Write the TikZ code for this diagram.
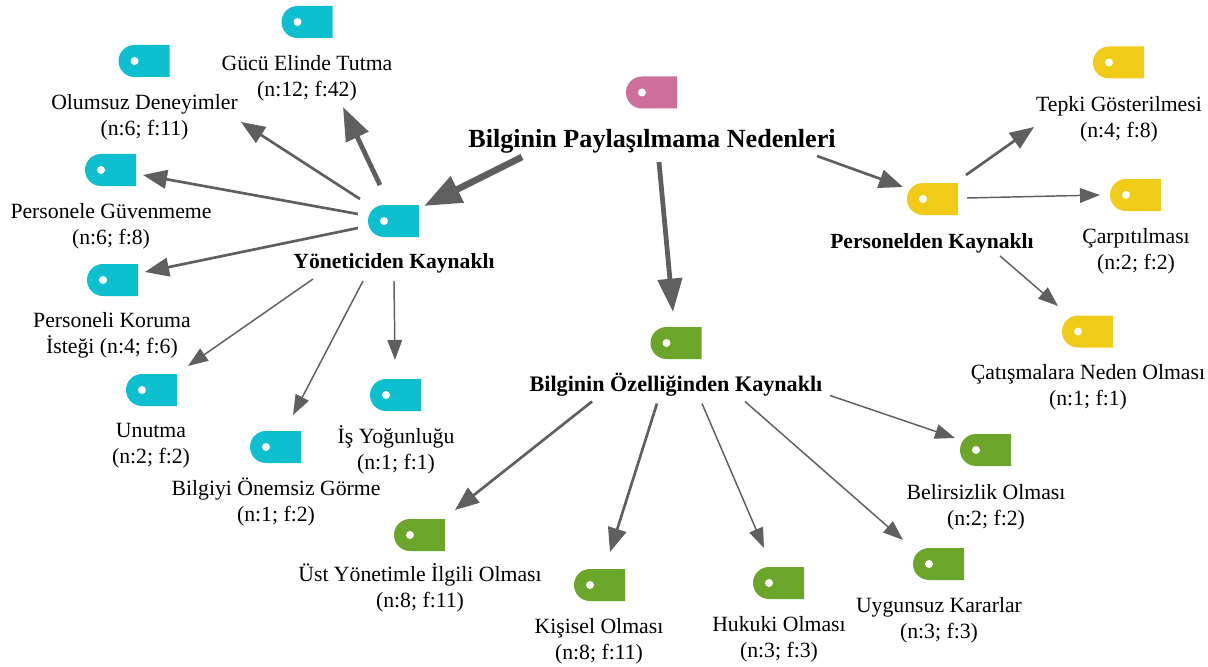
\documentclass[tikz,border=0pt]{standalone}
\usepackage{fontspec}
\setmainfont{Liberation Serif}
\usepackage{xcolor}
\usetikzlibrary{arrows.meta,shapes.misc}
\definecolor{tagcyan}{HTML}{0DBFCF}
\definecolor{tagyellow}{HTML}{F0CB17}
\definecolor{taggreen}{HTML}{6BA62A}
\definecolor{tagpink}{HTML}{CD6E9B}
\definecolor{arrowgray}{HTML}{5F5F5F}

\begin{document}
\begin{tikzpicture}[x=0.75pt, y=-0.75pt]

    % Styles
    \tikzstyle{tag} = [rounded rectangle, rounded rectangle right arc=none, minimum width=38.25pt, minimum height=24pt, inner sep=0pt, outer sep=0pt, text width=0pt,
        path picture={\fill[white] ([xshift=16*0.75pt]path picture bounding box.west) circle (3pt);}]
    \tikzstyle{cyantag} = [tag, fill=tagcyan]
    \tikzstyle{yellowtag} = [tag, fill=tagyellow]
    \tikzstyle{greentag} = [tag, fill=taggreen]
    \tikzstyle{pinktag} = [tag, fill=tagpink]
    \tikzstyle{label} = [align=center, inner sep=0pt, font=\fontsize{16.3}{19.5}\selectfont]
    \tikzstyle{boldlabel} = [align=center, inner sep=0pt, font=\fontsize{16.2}{19}\selectfont\bfseries]
    \tikzstyle{arrowfine} = [draw=arrowgray, line width=1.1pt, -{Triangle[length=15pt,width=11pt]}]
    \tikzstyle{arrowmid} = [draw=arrowgray, line width=2pt, -{Triangle[length=18pt,width=14pt]}]
    \tikzstyle{arrowbold} = [draw=arrowgray, line width=3.6pt, -{Triangle[length=25pt,width=18pt]}]
    \tikzstyle{arrowheavy} = [draw=arrowgray, line width=5pt, -{Triangle[length=28pt,width=21pt]}]

    \useasboundingbox (0,0) rectangle (1208,667);

    % Root
    \node (tagroot) [pinktag] at (651.5,92.5) {};
    \node (lblroot) [boldlabel, font=\fontsize{19.6}{22}\selectfont\bfseries] at (652,141) {Bilginin Paylaşılmama Nedenleri};

    % Yöneticiden
    \node (tagyon) [cyantag] at (393.5,221) {};
    \node (lblyon) [boldlabel] at (394,263) {Yöneticiden Kaynaklı};
    \node (taggucu) [cyantag] at (307,22) {};
    \node (lblgucu) [label] at (307,78) {Gücü Elinde Tutma\\(n:12; f:42)};
    \node (tagolumsuz) [cyantag] at (144,61) {};
    \node (lblolumsuz) [label] at (144.5,117) {Olumsuz Deneyimler\\(n:6; f:11)};
    \node (tagguven) [cyantag] at (110.5,170) {};
    \node (lblguven) [label] at (111,226) {Personele Güvenmeme\\(n:6; f:8)};
    \node (tagkoruma) [cyantag] at (112.5,280) {};
    \node (lblkoruma) [label] at (112,335) {Personeli Koruma\\İsteği (n:4; f:6)};
    \node (tagunutma) [cyantag] at (151.5,390) {};
    \node (lblunutma) [label] at (151,446) {Unutma\\(n:2; f:2)};
    \node (tagonem) [cyantag] at (275.5,447) {};
    \node (lblonem) [label] at (276,502) {Bilgiyi Önemsiz Görme\\(n:1; f:2)};
    \node (tagis) [cyantag] at (395.5,395) {};
    \node (lblis) [label] at (396,450) {İş Yoğunluğu\\(n:1; f:1)};

    % Özellik
    \node (tagoz) [greentag] at (676,343) {};
    \node (lbloz) [boldlabel, font=\fontsize{16.6}{19}\selectfont\bfseries] at (676,384.5) {Bilginin Özelliğinden Kaynaklı};
    \node (tagbelirsiz) [greentag] at (985.5,450) {};
    \node (lblbelirsiz) [label] at (986,507) {Belirsizlik Olması\\(n:2; f:2)};
    \node (taguygun) [greentag] at (938.5,564) {};
    \node (lbluygun) [label] at (939,620) {Uygunsuz Kararlar\\(n:3; f:3)};
    \node (taghukuk) [greentag] at (778.5,583) {};
    \node (lblhukuk) [label] at (779,639) {Hukuki Olması\\(n:3; f:3)};
    \node (tagkisi) [greentag] at (599.5,585) {};
    \node (lblkisi) [label] at (599,641) {Kişisel Olması\\(n:8; f:11)};
    \node (tagust) [greentag] at (419.5,535) {};
    \node (lblust) [label] at (420,588) {Üst Yönetimle İlgili Olması\\(n:8; f:11)};

    % Personelden
    \node (tagpers) [yellowtag] at (932.5,199) {};
    \node (lblpers) [boldlabel] at (932,243) {Personelden Kaynaklı};
    \node (tagtepki) [yellowtag] at (1118.5,62.5) {};
    \node (lbltepki) [label] at (1119,119) {Tepki Gösterilmesi\\(n:4; f:8)};
    \node (tagcarp) [yellowtag] at (1135.5,195) {};
    \node (lblcarp) [label] at (1136,251) {Çarpıtılması\\(n:2; f:2)};
    \node (tagcatis) [yellowtag] at (1087.5,331.5) {};
    \node (lblcatis) [label] at (1088,387) {Çatışmalara Neden Olması\\(n:1; f:1)};

    % Arrows
    \draw [arrowheavy] ([shift={(-130,16)}]lblroot.center) -- ([shift={(30.5,-15)}]tagyon.center);
    \draw [arrowbold] ([shift={(7,21)}]lblroot.center) -- ([shift={(-3,-31)}]tagoz.center);
    \draw [arrowmid] ([shift={(165,15)}]lblroot.center) -- ([shift={(-29.5,-12)}]tagpers.center);

    \draw [arrowbold] ([shift={(-13.5,-36)}]tagyon.center) -- ([shift={(36,29)}]lblgucu.center);
    \draw [arrowmid] ([shift={(-33.5,-22)}]tagyon.center) -- ([shift={(96.5,5)}]lblolumsuz.center);
    \draw [arrowmid] ([shift={(-35.5,-7)}]tagyon.center) -- ([shift={(32.5,5)}]tagguven.center);
    \draw [arrowmid] ([shift={(-35.5,7)}]tagyon.center) -- ([shift={(32.5,-8)}]tagkoruma.center);
    \draw [arrowfine] ([shift={(-81,16)}]lblyon.center) -- ([shift={(36.5,-24)}]tagunutma.center);
    \draw [arrowfine] ([shift={(-31,18)}]lblyon.center) -- ([shift={(17.5,-32)}]tagonem.center);
    \draw [arrowfine] ([shift={(0,18)}]lblyon.center) -- ([shift={(-0.5,-35)}]tagis.center);

    \draw [arrowmid] ([shift={(-84,17)}]lbloz.center) -- ([shift={(35.5,-25)}]tagust.center);
    \draw [arrowmid] ([shift={(-19,19)}]lbloz.center) -- ([shift={(10.5,-33)}]tagkisi.center);
    \draw [arrowfine] ([shift={(26,19)}]lbloz.center) -- ([shift={(-14.5,-35)}]taghukuk.center);
    \draw [arrowfine] ([shift={(69,17)}]lbloz.center) -- ([shift={(-35.5,-24)}]taguygun.center);
    \draw [arrowfine] ([shift={(154,11)}]lbloz.center) -- ([shift={(-30.5,-12)}]tagbelirsiz.center);

    \draw [arrowmid] ([shift={(33.5,-24)}]tagpers.center) -- ([shift={(-85,8)}]lbltepki.center);
    \draw [arrowfine] ([shift={(34.5,-1)}]tagpers.center) -- ([shift={(-35.5,0)}]tagcarp.center);
    \draw [arrowfine] ([shift={(68,13)}]lblpers.center) -- ([shift={(-29.5,-25.5)}]tagcatis.center);

\end{tikzpicture}
\end{document}
